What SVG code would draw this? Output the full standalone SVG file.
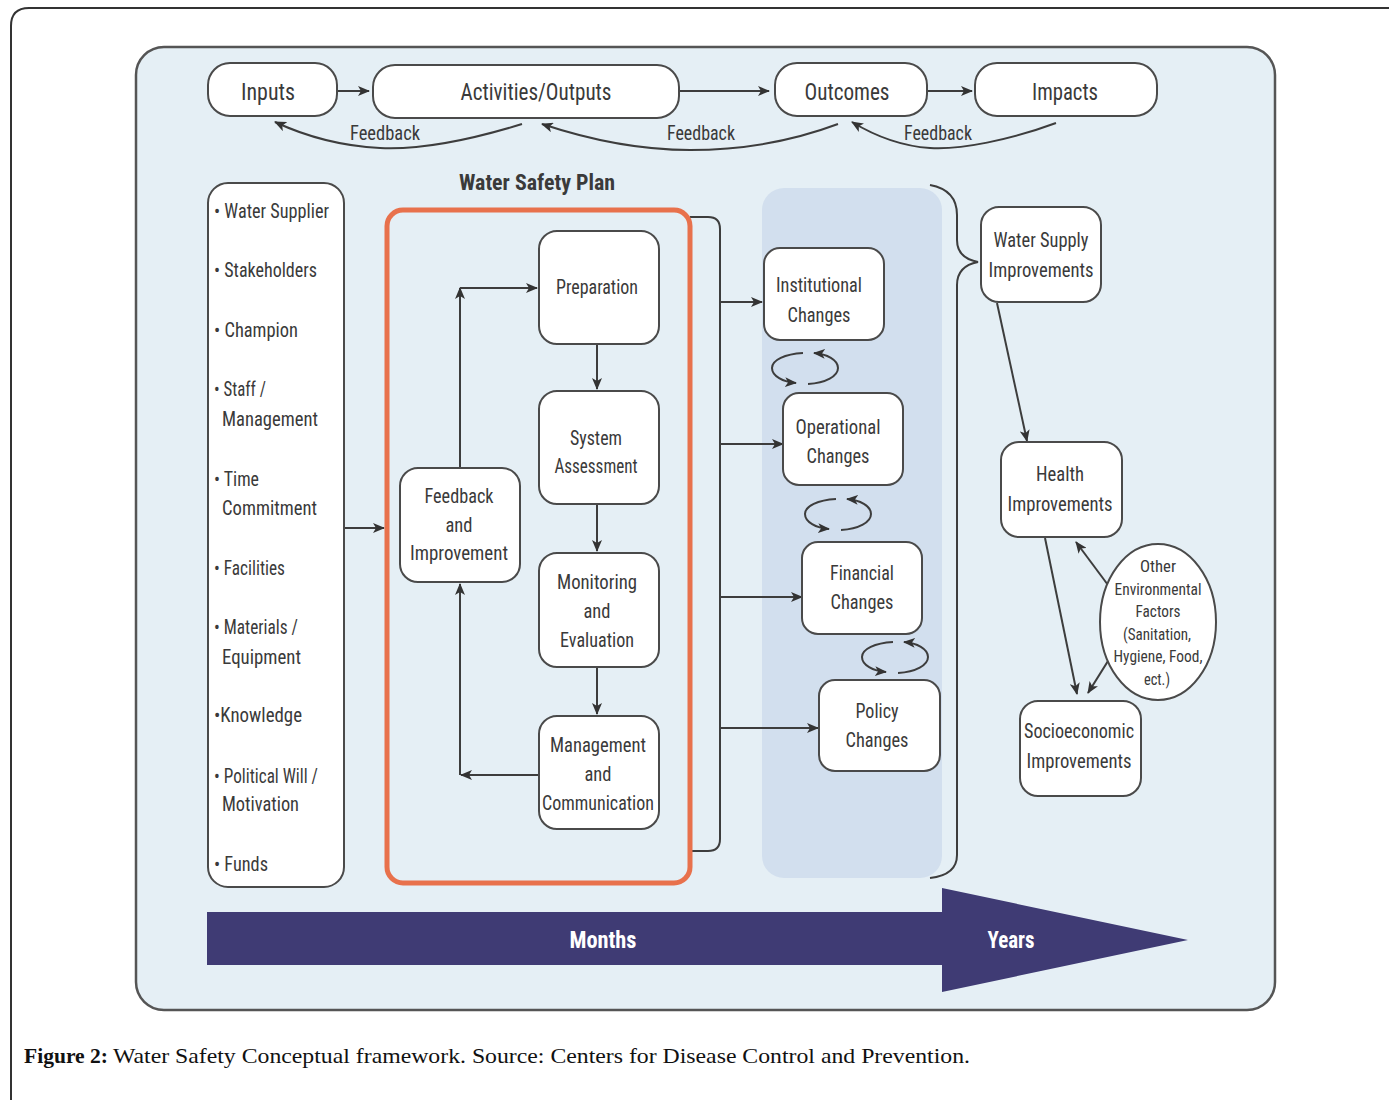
<svg xmlns="http://www.w3.org/2000/svg" width="1389" height="1100" viewBox="0 0 1389 1100">
<defs>
<style>
.bg{fill:#ffffff}
.frame{fill:none;stroke:#333;stroke-width:2}
.panel{fill:#e5eff5;stroke:#555;stroke-width:2.5}
.col{fill:#d2dfee}
.node{fill:#fff;stroke:#4a4a4a;stroke-width:2}
.wsp{fill:none;stroke:#e8714c;stroke-width:5}
.ln{fill:none;stroke:#3d3d3d;stroke-width:2}
.arr{marker-end:url(#ah)}
text{font-family:"Liberation Sans Narrow","Roboto Condensed","Liberation Sans",Arial,sans-serif;fill:#3a3a3a}
.t{font-size:21px;text-anchor:middle}
.top{font-size:24px;text-anchor:middle}
.fb{font-size:20px;text-anchor:middle}
.li{font-size:20px}
.sm{font-size:17px;text-anchor:middle}
.title{font-size:22px;font-weight:bold;text-anchor:middle}
.band{font-size:23px;font-weight:bold;fill:#fff;text-anchor:middle}
.cap{font-family:"Liberation Serif","Times New Roman",serif;font-size:22px;fill:#111}
</style>
<marker id="ah" viewBox="0 0 12 10" refX="11" refY="5" markerWidth="12" markerHeight="10" orient="auto" markerUnits="userSpaceOnUse">
<path d="M0,0 L12,5 L0,10 L3,5 z" fill="#333"/>
</marker>
<g id="cyc">
<path class="ln arr" d="M-2,-15 C-20,-14 -33,-8 -33,0 C-33,8 -22,14 -9,15"/>
<path class="ln arr" d="M3,16 C21,15 33,8 33,0 C33,-8 22,-14 9,-15"/>
</g>
</defs>
<rect class="bg" x="0" y="0" width="1389" height="1100"/>
<path class="frame" d="M11,1100 L11,26 Q11,8 29,8 L1389,8"/>
<rect class="panel" x="136" y="47" width="1139" height="963" rx="28"/>
<rect class="col" x="762" y="188" width="180" height="690" rx="22"/>

<g id="connectors">
<path class="ln arr" d="M337,91 L369,91"/>
<path class="ln arr" d="M679,91 L769,91"/>
<path class="ln arr" d="M927,91 L972,91"/>
<path class="ln arr" d="M522,124 C470,140 420,150 380,148 C340,146 305,136 275,122"/>
<path class="ln arr" d="M838,124 C790,142 740,150 690,150 C640,150 590,140 542,124"/>
<path class="ln arr" d="M1056,123 C1010,140 960,150 930,148 C900,146 875,136 852,122"/>
<path class="ln arr" d="M345,528 L384,528"/>
<path class="ln" d="M690,217 L708,217 Q720,217 720,229 L720,839 Q720,851 708,851 L690,851"/>
<path class="ln arr" d="M720,302 L762,302"/>
<path class="ln arr" d="M720,444 L783,444"/>
<path class="ln arr" d="M720,597 L802,597"/>
<path class="ln arr" d="M720,728 L818,728"/>
<path class="ln arr" d="M597,344 L597,389"/>
<path class="ln arr" d="M597,504 L597,551"/>
<path class="ln arr" d="M597,667 L597,714"/>
<path class="ln arr" d="M460,468 L460,288"/>
<path class="ln arr" d="M460,288 L537,288"/>
<path class="ln arr" d="M539,775 L461,775"/>
<path class="ln arr" d="M460,775 L460,584"/>
<use href="#cyc" x="805" y="368"/>
<use href="#cyc" x="838" y="514"/>
<use href="#cyc" x="895" y="657"/>
<path class="ln" d="M930,185 Q957,190 957,215 L957,240 Q957,258 978,262 Q957,266 957,285 L957,855 Q957,875 930,878"/>
<path class="ln arr" d="M997,303 L1027,441"/>
<path class="ln arr" d="M1045,538 L1077,694"/>
<path class="ln arr" d="M1108,585 L1076,542"/>
<path class="ln arr" d="M1113,653 L1088,693"/>
</g>

<g id="inputs"><rect class="node" x="208" y="63" width="129" height="53" rx="22"/><text class="top" x="268" y="100" textLength="54" lengthAdjust="spacingAndGlyphs">Inputs</text></g>
<g id="activities"><rect class="node" x="373" y="65" width="306" height="53" rx="22"/><text class="top" x="536" y="100" textLength="151" lengthAdjust="spacingAndGlyphs">Activities/Outputs</text></g>
<g id="outcomes"><rect class="node" x="775" y="63" width="152" height="53" rx="22"/><text class="top" x="847" y="100" textLength="85" lengthAdjust="spacingAndGlyphs">Outcomes</text></g>
<g id="impacts"><rect class="node" x="975" y="63" width="182" height="53" rx="22"/><text class="top" x="1065" y="100" textLength="66" lengthAdjust="spacingAndGlyphs">Impacts</text></g>
<g id="feedback-labels">
<text class="fb" x="385" y="140" textLength="70" lengthAdjust="spacingAndGlyphs">Feedback</text>
<text class="fb" x="701" y="140" textLength="68" lengthAdjust="spacingAndGlyphs">Feedback</text>
<text class="fb" x="938" y="140" textLength="68" lengthAdjust="spacingAndGlyphs">Feedback</text>
</g>

<g id="wsp-title"><text class="title" x="537" y="190" textLength="156" lengthAdjust="spacingAndGlyphs">Water Safety Plan</text></g>

<g id="input-list">
<rect class="node" x="208" y="183" width="136" height="704" rx="20"/>
<text class="li" x="214" y="218" textLength="115" lengthAdjust="spacingAndGlyphs">• Water Supplier</text>
<text class="li" x="214" y="277" textLength="103" lengthAdjust="spacingAndGlyphs">• Stakeholders</text>
<text class="li" x="214" y="337" textLength="84" lengthAdjust="spacingAndGlyphs">• Champion</text>
<text class="li" x="214" y="396" textLength="52" lengthAdjust="spacingAndGlyphs">• Staff /</text>
<text class="li" x="222" y="426" textLength="96" lengthAdjust="spacingAndGlyphs">Management</text>
<text class="li" x="214" y="486" textLength="45" lengthAdjust="spacingAndGlyphs">• Time</text>
<text class="li" x="222" y="515" textLength="95" lengthAdjust="spacingAndGlyphs">Commitment</text>
<text class="li" x="214" y="575" textLength="71" lengthAdjust="spacingAndGlyphs">• Facilities</text>
<text class="li" x="214" y="634" textLength="84" lengthAdjust="spacingAndGlyphs">• Materials /</text>
<text class="li" x="222" y="664" textLength="79" lengthAdjust="spacingAndGlyphs">Equipment</text>
<text class="li" x="214" y="722" textLength="88" lengthAdjust="spacingAndGlyphs">•Knowledge</text>
<text class="li" x="214" y="783" textLength="104" lengthAdjust="spacingAndGlyphs">• Political Will /</text>
<text class="li" x="222" y="811" textLength="77" lengthAdjust="spacingAndGlyphs">Motivation</text>
<text class="li" x="214" y="871" textLength="54" lengthAdjust="spacingAndGlyphs">• Funds</text>
</g>

<g id="wsp-box"><rect class="wsp" x="387" y="210" width="303" height="673" rx="16"/></g>

<g id="preparation"><rect class="node" x="539" y="231" width="120" height="113" rx="18"/><text class="t" x="597" y="294" textLength="82" lengthAdjust="spacingAndGlyphs">Preparation</text></g>
<g id="system-assessment"><rect class="node" x="539" y="391" width="120" height="113" rx="18"/><text class="t" x="596" y="445" textLength="52" lengthAdjust="spacingAndGlyphs">System</text><text class="t" x="596" y="473" textLength="83" lengthAdjust="spacingAndGlyphs">Assessment</text></g>
<g id="monitoring"><rect class="node" x="539" y="553" width="120" height="114" rx="18"/><text class="t" x="597" y="589" textLength="80" lengthAdjust="spacingAndGlyphs">Monitoring</text><text class="t" x="597" y="618" textLength="27" lengthAdjust="spacingAndGlyphs">and</text><text class="t" x="597" y="647" textLength="74" lengthAdjust="spacingAndGlyphs">Evaluation</text></g>
<g id="management"><rect class="node" x="539" y="716" width="120" height="113" rx="18"/><text class="t" x="598" y="752" textLength="96" lengthAdjust="spacingAndGlyphs">Management</text><text class="t" x="598" y="781" textLength="27" lengthAdjust="spacingAndGlyphs">and</text><text class="t" x="598" y="810" textLength="112" lengthAdjust="spacingAndGlyphs">Communication</text></g>
<g id="feedback-improvement"><rect class="node" x="400" y="468" width="120" height="114" rx="18"/><text class="t" x="459" y="503" textLength="69" lengthAdjust="spacingAndGlyphs">Feedback</text><text class="t" x="459" y="532" textLength="27" lengthAdjust="spacingAndGlyphs">and</text><text class="t" x="459" y="560" textLength="98" lengthAdjust="spacingAndGlyphs">Improvement</text></g>

<g id="institutional"><rect class="node" x="764" y="248" width="120" height="92" rx="16"/><text class="t" x="819" y="292" textLength="86" lengthAdjust="spacingAndGlyphs">Institutional</text><text class="t" x="819" y="322" textLength="63" lengthAdjust="spacingAndGlyphs">Changes</text></g>
<g id="operational"><rect class="node" x="783" y="393" width="120" height="92" rx="16"/><text class="t" x="838" y="434" textLength="85" lengthAdjust="spacingAndGlyphs">Operational</text><text class="t" x="838" y="463" textLength="63" lengthAdjust="spacingAndGlyphs">Changes</text></g>
<g id="financial"><rect class="node" x="802" y="542" width="120" height="92" rx="16"/><text class="t" x="862" y="580" textLength="64" lengthAdjust="spacingAndGlyphs">Financial</text><text class="t" x="862" y="609" textLength="63" lengthAdjust="spacingAndGlyphs">Changes</text></g>
<g id="policy"><rect class="node" x="819" y="680" width="121" height="91" rx="16"/><text class="t" x="877" y="718" textLength="43" lengthAdjust="spacingAndGlyphs">Policy</text><text class="t" x="877" y="747" textLength="63" lengthAdjust="spacingAndGlyphs">Changes</text></g>

<g id="water-supply"><rect class="node" x="981" y="207" width="120" height="95" rx="18"/><text class="t" x="1041" y="247" textLength="95" lengthAdjust="spacingAndGlyphs">Water Supply</text><text class="t" x="1041" y="277" textLength="105" lengthAdjust="spacingAndGlyphs">Improvements</text></g>
<g id="health"><rect class="node" x="1001" y="442" width="121" height="95" rx="18"/><text class="t" x="1060" y="481" textLength="48" lengthAdjust="spacingAndGlyphs">Health</text><text class="t" x="1060" y="511" textLength="105" lengthAdjust="spacingAndGlyphs">Improvements</text></g>
<g id="socioeconomic"><rect class="node" x="1020" y="701" width="121" height="95" rx="18"/><text class="t" x="1079" y="738" textLength="110" lengthAdjust="spacingAndGlyphs">Socioeconomic</text><text class="t" x="1079" y="768" textLength="105" lengthAdjust="spacingAndGlyphs">Improvements</text></g>
<g id="other-factors"><ellipse class="node" cx="1158" cy="622" rx="58" ry="78"/>
<text class="sm" x="1158" y="572" textLength="36" lengthAdjust="spacingAndGlyphs">Other</text>
<text class="sm" x="1158" y="595" textLength="87" lengthAdjust="spacingAndGlyphs">Environmental</text>
<text class="sm" x="1158" y="617" textLength="45" lengthAdjust="spacingAndGlyphs">Factors</text>
<text class="sm" x="1157" y="640" textLength="68" lengthAdjust="spacingAndGlyphs">(Sanitation,</text>
<text class="sm" x="1158" y="662" textLength="89" lengthAdjust="spacingAndGlyphs">Hygiene, Food,</text>
<text class="sm" x="1157" y="685" textLength="26" lengthAdjust="spacingAndGlyphs">ect.)</text>
</g>

<g id="timeline">
<path d="M207,912 L942,912 L942,888 L1188,940 L942,992 L942,965 L207,965 Z" fill="#3f3b74"/>
<text class="band" x="603" y="948" textLength="67" lengthAdjust="spacingAndGlyphs">Months</text>
<text class="band" x="1011" y="948" textLength="47" lengthAdjust="spacingAndGlyphs">Years</text>
</g>

<g id="caption">
<text class="cap" x="24" y="1063" font-weight="bold" textLength="84" lengthAdjust="spacingAndGlyphs">Figure 2:</text>
<text class="cap" x="113" y="1063" textLength="857" lengthAdjust="spacingAndGlyphs">Water Safety Conceptual framework. Source: Centers for Disease Control and Prevention.</text>
</g>
</svg>
